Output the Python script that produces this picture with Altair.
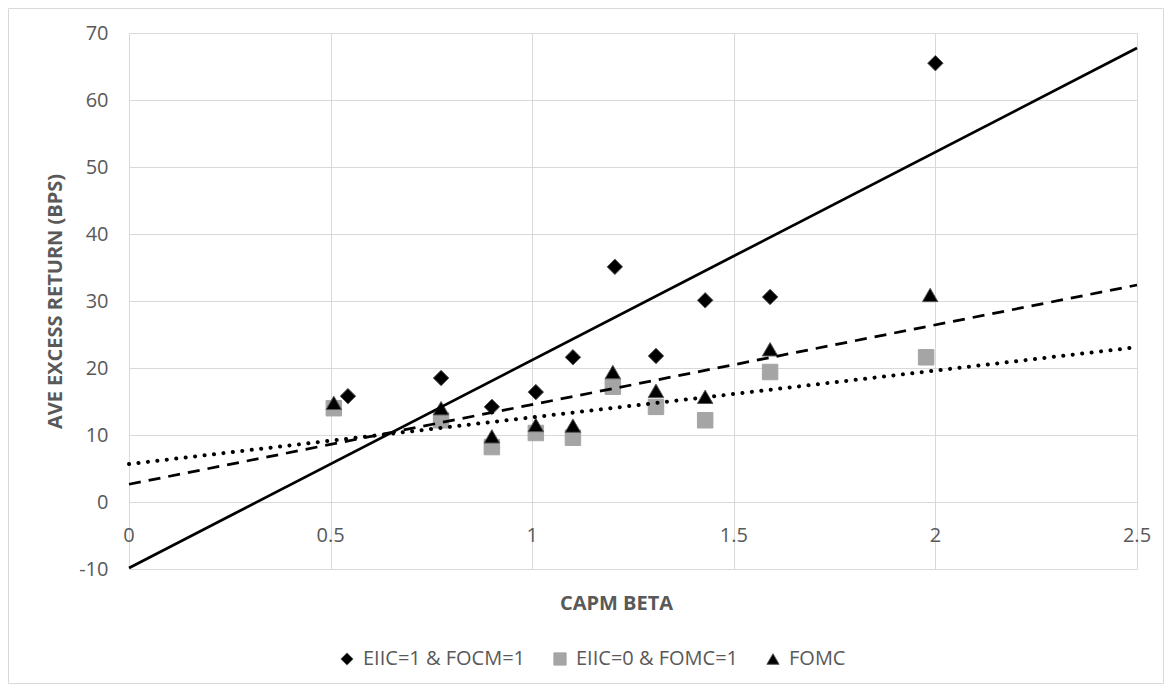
import altair as alt
import pandas as pd

# ---- data ----
SERIES = ["EIIC=1 & FOCM=1", "EIIC=0 & FOMC=1", "FOMC"]

beta_eiic1 = [0.543, 0.774, 0.900, 1.009, 1.101, 1.205, 1.307, 1.429, 1.590, 2.000]
ret_eiic1 = [15.8, 18.5, 14.2, 16.4, 21.6, 35.1, 21.8, 30.1, 30.6, 65.5]

beta_eiic0 = [0.508, 0.774, 0.900, 1.009, 1.101, 1.200, 1.307, 1.429, 1.590, 1.977]
ret_eiic0 = [14.0, 12.2, 8.2, 10.3, 9.6, 17.2, 14.2, 12.2, 19.4, 21.6]

beta_fomc = [0.508, 0.774, 0.900, 1.009, 1.101, 1.200, 1.307, 1.429, 1.590, 1.987]
ret_fomc = [14.8, 14.0, 9.8, 11.5, 11.4, 19.4, 16.6, 15.7, 22.8, 30.9]

x_ticks = [0, 0.5, 1, 1.5, 2, 2.5]
x_tick_labels = ["0", "0.5", "1", "1.5", "2", "2.5"]
y_ticks = [-10, 0, 10, 20, 30, 40, 50, 60, 70]

X_TITLE = "CAPM BETA"
Y_TITLE = "AVE EXCESS RETURN (BPS)"

# ---- tables ----
points = pd.concat([
    pd.DataFrame({"beta": beta_eiic1, "ret": ret_eiic1, "series": SERIES[0]}),
    pd.DataFrame({"beta": beta_eiic0, "ret": ret_eiic0, "series": SERIES[1]}),
    pd.DataFrame({"beta": beta_fomc, "ret": ret_fomc, "series": SERIES[2]}),
], ignore_index=True)

ticks_df = pd.DataFrame({"beta": x_ticks, "label": x_tick_labels, "ret": [0] * len(x_ticks)})

FONT = "Open Sans"
TXT = "#595959"
GRID = "#D9D9D9"
W, H = 1008, 536

xscale = alt.Scale(domain=[0, 2.5], nice=False, zero=False)
yscale = alt.Scale(domain=[-10, 70], nice=False, zero=False)

xaxis = alt.Axis(values=x_ticks, labels=False, ticks=False, tickSize=0, domain=False,
                 grid=True, gridColor=GRID, gridWidth=1,
                 title=X_TITLE, titleX=487, titleY=34, titleAlign="center",
                 titleBaseline="middle", titleFont=FONT, titleFontSize=20,
                 titleFontWeight="bold", titleColor=TXT)
yaxis = alt.Axis(values=y_ticks, ticks=False, tickSize=0, domain=False,
                 grid=True, gridColor=GRID, gridWidth=1,
                 labelExpr="toString(datum.value)",
                 labelPadding=21, labelFont=FONT, labelFontSize=20, labelColor=TXT,
                 title=Y_TITLE, titleX=-74, titleY=H / 2, titleAngle=270,
                 titleAlign="center", titleBaseline="middle", titleFont=FONT,
                 titleFontSize=20, titleFontWeight="bold", titleColor=TXT)

X = alt.X("beta:Q", scale=xscale, axis=xaxis)
Y = alt.Y("ret:Q", scale=yscale, axis=yaxis)

leg = alt.Legend(title=None, orient="none", legendX=208, legendY=616,
                 direction="horizontal", labelFont=FONT, labelFontSize=20,
                 labelColor=TXT, labelLimit=0, symbolSize=150, symbolStrokeWidth=1,
                 columnPadding=24, labelOffset=6, padding=0)

frame = alt.Chart(pd.DataFrame({"k": [0]})).mark_rect(
    filled=False, stroke=GRID, strokeWidth=1
).encode(x=alt.value(-120.5), x2=alt.value(1034.5), y=alt.value(-24.5), y2=alt.value(650.5))

pts = alt.Chart(points).mark_point(filled=True, size=240, strokeWidth=1, opacity=1).encode(
    x=X, y=Y,
    shape=alt.Shape("series:N", scale=alt.Scale(domain=SERIES, range=["diamond", "square", "triangle-up"]), legend=leg),
    fill=alt.Fill("series:N", scale=alt.Scale(domain=SERIES, range=["#000000", "#A5A5A5", "#000000"]), legend=leg),
    stroke=alt.Stroke("series:N", scale=alt.Scale(domain=SERIES, range=["#595959", "#A5A5A5", "#595959"]), legend=leg),
)

line_styles = [
    (SERIES[0], dict(strokeWidth=2.75)),
    (SERIES[1], dict(strokeWidth=4, strokeDash=[0.1, 9.4], strokeCap="round")),
    (SERIES[2], dict(strokeWidth=2.75, strokeDash=[12, 8])),
]
lines = []
for s, style in line_styles:
    lines.append(
        alt.Chart(points)
        .transform_filter(alt.datum.series == s)
        .transform_regression("beta", "ret", extent=[0, 2.5])
        .mark_line(color="black", **style)
        .encode(x=X, y=Y)
    )

xlabels = alt.Chart(ticks_df).mark_text(
    dy=34, baseline="middle", align="center", font=FONT, fontSize=20, color=TXT
).encode(x=X, y=Y, text="label:N")

chart = alt.layer(frame, pts, *lines, xlabels).properties(
    width=W, height=H,
    padding={"left": 121, "top": 25, "right": 27, "bottom": 115},
    autosize=alt.AutoSizeParams(type="none"),
    background="white",
).configure_view(stroke=None)

chart.save("out.html", embed_options={"renderer": "svg", "actions": False})
